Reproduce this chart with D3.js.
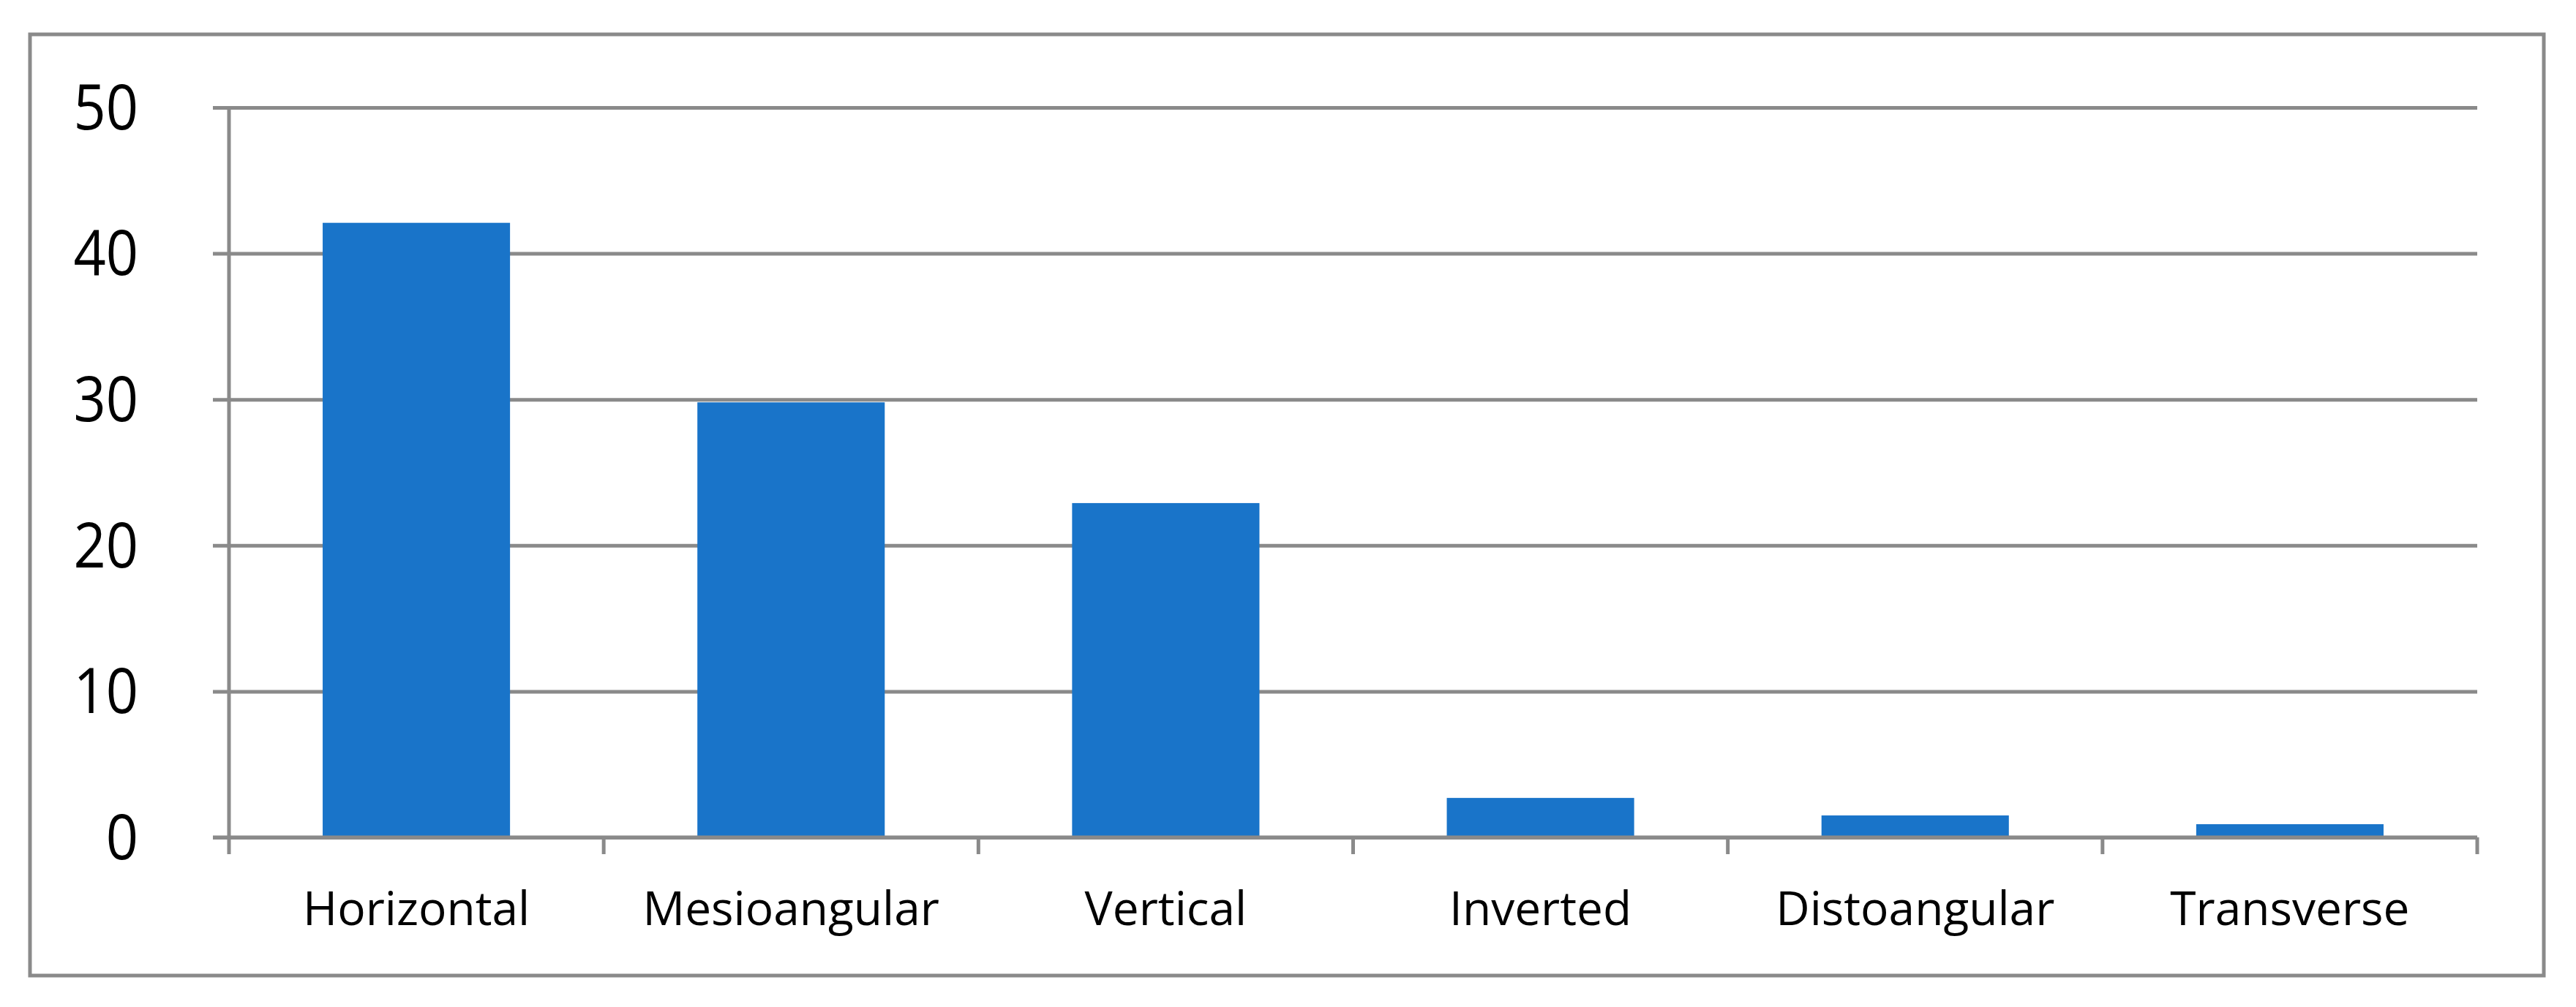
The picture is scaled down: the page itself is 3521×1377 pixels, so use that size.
<!DOCTYPE html>
<html>
<head>
<meta charset="utf-8">
<script src="https://cdnjs.cloudflare.com/ajax/libs/d3/7.8.5/d3.min.js"></script>
<style>
  body { margin: 0; background: #fff; }
  svg { display: block; }
  text { font-family: "Open Sans", "Noto Sans", sans-serif; fill: #000; }
</style>
</head>
<body>
<svg id="chart" width="3521" height="1377"></svg>
<script>
const categories = ["Horizontal", "Mesioangular", "Vertical", "Inverted", "Distoangular", "Transverse"];
const values = [42.1, 29.8, 22.9, 2.7, 1.5, 0.9];
const yTicks = [0, 10, 20, 30, 40, 50];

const svg = d3.select('#chart');
const gray = '#8a8a8a';

// outer frame
svg.append('rect')
    .attr('x', 41).attr('y', 47)
    .attr('width', 3477 - 41).attr('height', 1334 - 47)
    .attr('fill', 'none').attr('stroke', gray).attr('stroke-width', 5);

const margin = { top: 147, left: 313 },
      width = 3386 - margin.left,
      height = 1145 - margin.top;

const g = svg.append('g').attr('transform', `translate(${margin.left},${margin.top})`);

const x = d3.scaleBand().domain(categories).range([0, width]).paddingInner(0.5).paddingOuter(0.25);
const y = d3.scaleLinear().domain([0, 50]).range([height, 0]);

// gridlines + y labels
const yAxis = g.append('g')
    .call(d3.axisLeft(y).tickValues(yTicks).tickSize(-width).tickPadding(0));
yAxis.select('.domain').remove();
yAxis.selectAll('.tick line')
    .attr('x1', -22).attr('x2', width)
    .attr('stroke', gray).attr('stroke-width', 5);
yAxis.selectAll('.tick text')
    .attr('x', 0).attr('dy', '0.34em')
    .attr('transform', 'translate(-124,0) scale(0.9,1)')
    .style('font-size', '86px').style('fill', '#000');

// bars
g.selectAll('.bar')
    .data(values)
    .enter().append('rect')
    .attr('class', 'bar')
    .attr('x', (d, i) => x(categories[i]))
    .attr('width', x.bandwidth())
    .attr('y', d => y(d))
    .attr('height', d => y(0) - y(d))
    .attr('fill', '#1974c9');

// y axis line
g.append('line')
    .attr('x1', 0).attr('x2', 0)
    .attr('y1', y(50)).attr('y2', y(0) + 23)
    .attr('stroke', gray).attr('stroke-width', 5);

// x axis line + boundary ticks
g.append('line')
    .attr('x1', -22).attr('x2', width)
    .attr('y1', y(0)).attr('y2', y(0))
    .attr('stroke', gray).attr('stroke-width', 5);
const bounds = categories.map(c => x(c) + x.bandwidth() + (x.step() - x.bandwidth()) / 2);
g.selectAll('.xtick')
    .data(bounds)
    .enter().append('line')
    .attr('class', 'xtick')
    .attr('x1', d => d).attr('x2', d => d)
    .attr('y1', y(0)).attr('y2', y(0) + 23)
    .attr('stroke', gray).attr('stroke-width', 5);

// x labels
const xAxis = g.append('g')
    .attr('transform', `translate(0,${height})`)
    .call(d3.axisBottom(x).tickSize(0).tickPadding(0));
xAxis.select('.domain').remove();
xAxis.selectAll('.tick text')
    .attr('y', 120).attr('dy', 0)
    .style('font-size', '64px').style('fill', '#000');
</script>
</body>
</html>
